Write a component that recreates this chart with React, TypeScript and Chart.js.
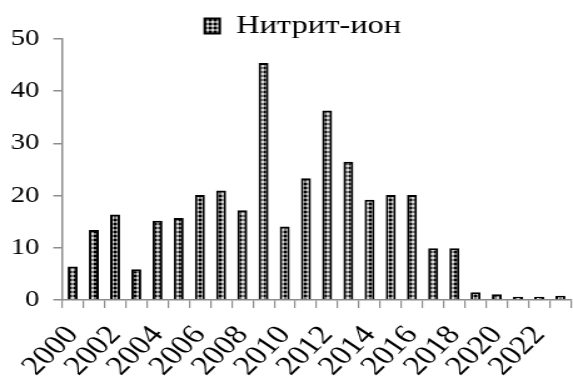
import React, { useEffect, useRef } from "react";
import { Chart, registerables } from "chart.js";

Chart.register(...registerables);

const years: string[] = [
  "2000", "2001", "2002", "2003", "2004", "2005", "2006", "2007", "2008", "2009",
  "2010", "2011", "2012", "2013", "2014", "2015", "2016", "2017", "2018", "2019",
  "2020", "2021", "2022", "2023",
];
const nitriteValues: number[] = [
  6.4, 13.4, 16.4, 5.9, 15.2, 15.7, 20.1, 21.0, 17.2, 45.4,
  14.1, 23.3, 36.3, 26.5, 19.2, 20.1, 20.1, 9.9, 9.9, 1.5,
  1.1, 0.6, 0.6, 0.8,
];
const seriesName = "Нитрит-ион";
const yTicks = { min: 0, max: 50, step: 10 };

const STRETCH = 1.25;
const W = 573;
const H = 376;
const CW = Math.round(W / STRETCH);
const LEGEND_SHIFT_X = 13;
const LEGEND_SHIFT_Y = 10;

function makePattern(): CanvasPattern | string {
  const c = document.createElement("canvas");
  c.width = 4;
  c.height = 4;
  const ctx = c.getContext("2d");
  if (!ctx) return "#222";
  ctx.fillStyle = "#000";
  ctx.fillRect(0, 0, 4, 4);
  ctx.fillStyle = "#7a7a7a";
  ctx.fillRect(1, 0, 2, 1);
  ctx.fillRect(0, 1, 1, 2);
  ctx.fillRect(3, 1, 1, 2);
  ctx.fillRect(1, 3, 2, 1);
  ctx.fillStyle = "#d8d8d8";
  ctx.fillRect(1, 1, 2, 2);
  const p = ctx.createPattern(c, "repeat");
  return p || "#222";
}

const shiftLegend = {
  id: "shiftLegend",
  afterLayout(chart: any) {
    const lg = chart.legend;
    if (lg) {
      lg.left += LEGEND_SHIFT_X;
      lg.right += LEGEND_SHIFT_X;
      lg.top += LEGEND_SHIFT_Y;
      lg.bottom += LEGEND_SHIFT_Y;
    }
  },
};

export default function App() {
  const ref = useRef<HTMLCanvasElement | null>(null);

  useEffect(() => {
    document.body.style.margin = "0";
    if (!ref.current) return;
    const pattern = makePattern();
    const font = "'Liberation Serif', 'Times New Roman', serif";
    const chart = new Chart(ref.current, {
      type: "bar",
      data: {
        labels: years,
        datasets: [
          {
            label: seriesName,
            data: nitriteValues,
            backgroundColor: pattern as any,
            borderColor: "#000",
            borderWidth: 2,
            barPercentage: 0.47,
            categoryPercentage: 1,
          },
        ],
      },
      plugins: [shiftLegend],
      options: {
        animation: false,
        responsive: false,
        maintainAspectRatio: false,
        layout: { padding: { left: 2, right: 1.6, top: 0, bottom: 0 } },
        plugins: {
          legend: {
            display: true,
            position: "top",
            labels: {
              boxWidth: 12,
              boxHeight: 15,
              color: "#000",
              padding: 3,
              font: { family: font, size: 26 },
            },
          },
          tooltip: { enabled: false },
        },
        scales: {
          x: {
            afterFit: (s: any) => {
              s.height = 76;
              s.paddingLeft = 0;
              s.paddingRight = 0;
            },
            grid: {
              display: true,
              drawOnChartArea: false,
              drawTicks: true,
              tickLength: 8,
              color: "#8c8c8c",
              lineWidth: 1.2,
              offset: true,
            },
            border: { display: true, color: "#8c8c8c", width: 1.5 },
            ticks: {
              autoSkip: false,
              maxRotation: 50,
              minRotation: 50,
              color: "#000",
              padding: 12,
              font: { family: font, size: 27 },
              callback: (_v: any, i: number) => (i % 2 === 0 ? years[i] : ""),
            },
          },
          y: {
            min: yTicks.min,
            max: yTicks.max,
            afterFit: (s: any) => {
              s.width = 47.6;
            },
            grid: {
              display: true,
              drawOnChartArea: false,
              drawTicks: true,
              tickLength: 7,
              color: "#8c8c8c",
              lineWidth: 1.5,
            },
            border: { display: true, color: "#8c8c8c", width: 1.5 },
            ticks: {
              stepSize: yTicks.step,
              color: "#000",
              padding: 11,
              font: { family: font, size: 23 },
            },
          },
        },
      },
    });
    return () => chart.destroy();
  }, []);

  return (
    <div style={{ position: "absolute", left: 0, top: 0, width: W, height: H, overflow: "hidden" }}>
      <div
        style={{
          width: CW,
          height: H,
          transform: `scaleX(${W / CW})`,
          transformOrigin: "0 0",
        }}
      >
        <canvas ref={ref} width={CW} height={H} style={{ display: "block" }} />
      </div>
    </div>
  );
}
